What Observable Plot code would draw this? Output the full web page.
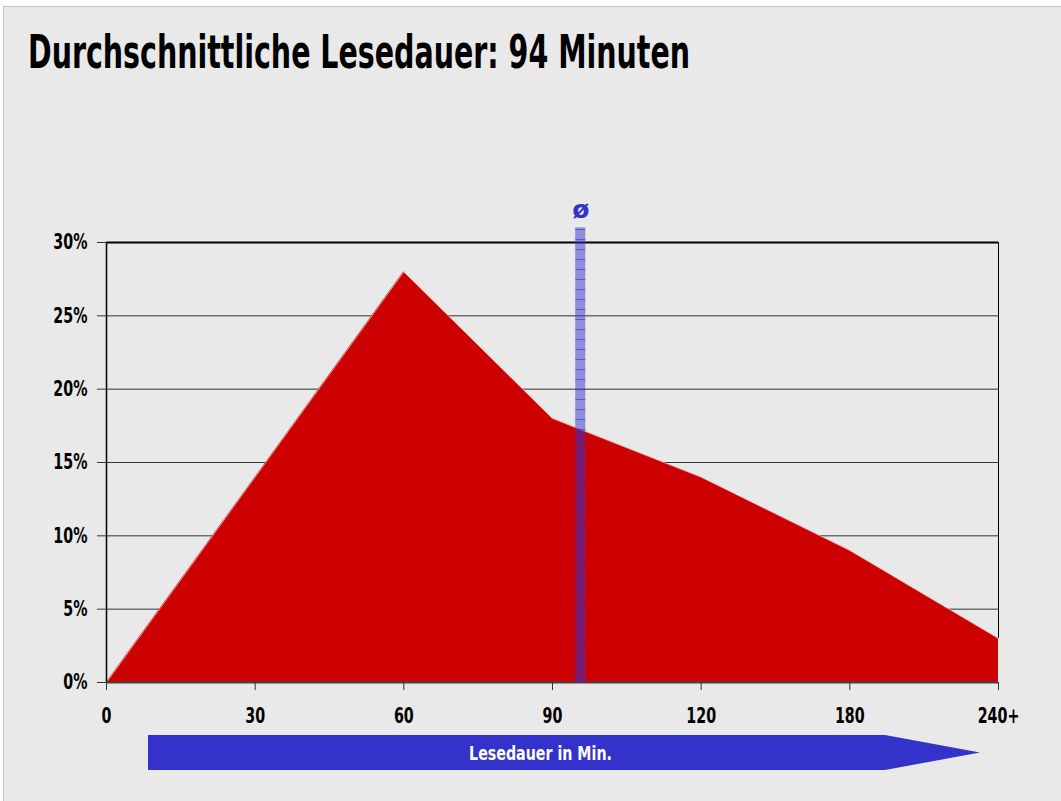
<!DOCTYPE html>
<html><head><meta charset="utf-8">
<script src="https://cdn.jsdelivr.net/npm/d3@7"></script>
<script src="https://cdn.jsdelivr.net/npm/@observablehq/plot@0.6"></script>
<style>
body{margin:0;background:#fff;width:1061px;height:801px;overflow:hidden;position:relative;}
#frame{position:absolute;left:3px;top:6px;width:1058px;height:795px;background:#e9e9e9;border-left:1px solid #c4c4c4;border-top:1px solid #c4c4c4;}
#title{position:absolute;left:28px;top:29px;font-family:"DejaVu Sans",sans-serif;font-stretch:condensed;font-weight:bold;font-size:46px;line-height:46px;white-space:nowrap;transform-origin:left top;color:#000;}
#chart{position:absolute;left:0;top:0;}
</style></head>
<body>
<div id="frame"></div>
<div id="chart"></div>
<div id="title">Durchschnittliche Lesedauer: 94 Minuten</div>
<script>
// Data
const categories = ["0", "30", "60", "90", "120", "180", "240+"];
const shares = [0, 14, 28, 18, 14, 9, 3]; // percent
const yTicks = [0, 5, 10, 15, 20, 25, 30];
const meanMinutes = 94;
const meanPosition = 3.19; // position on category axis where the mean bar is drawn
const meanLabel = "ø";
const axisLabel = "Lesedauer in Min.";

const data = categories.map((c, i) => ({i, cat: c, v: shares[i]}));
const FONT = '"DejaVu Sans",sans-serif';

const plot = Plot.plot({
  width: 1061,
  height: 801,
  marginLeft: 106,
  marginRight: 63,
  marginTop: 242,
  marginBottom: 119,
  style: {background: "transparent", fontFamily: FONT, fontWeight: "bold", fontSize: "21px", color: "#000", overflow: "visible"},
  x: {type: "linear", domain: [0, categories.length - 1], axis: null},
  y: {domain: [0, 30], axis: null},
  marks: [
    Plot.ruleY(yTicks.filter(d => d > 0 && d < 30), {stroke: "#333", strokeWidth: 1}),
    Plot.areaY(data, {x: "i", y: "v", fill: "#cc0000", curve: "linear"}),
    Plot.lineY(data, {x: "i", y: "v", stroke: "#fff", strokeWidth: 0.8, strokeOpacity: 0.7}),
    Plot.ruleY([30], {stroke: "#000", strokeWidth: 2}),
    Plot.ruleX([0], {stroke: "#000", strokeWidth: 1.5}),
    Plot.ruleX([categories.length - 1], {y1: 3, y2: 30, stroke: "#000", strokeWidth: 1}),
    Plot.ruleY([0], {stroke: "#444", strokeWidth: 2}),
    // mean bar
    Plot.rect([meanMinutes], {x1: () => meanPosition - 0.034, x2: () => meanPosition + 0.034, y1: 0, y2: 31, fill: "url(#meanPattern)"}),
    Plot.text([meanLabel], {x: () => meanPosition, y: 31, dy: -18, text: d => d, fill: "#3333cc", fontSize: 25, fontWeight: "bold"}),
    // axes
    Plot.axisY(yTicks, {label: null, tickSize: 9, tickPadding: 10, tickFormat: d => d + "%", stroke: "#333", fontSize: 21, fontWeight: "bold", className: "sq"}),
    Plot.axisX(categories.map((c, i) => i), {label: null, tickSize: 8, tickPadding: 18, tickFormat: i => categories[i], stroke: "#333", fontSize: 21, fontWeight: "bold", className: "sq"})
  ]
});

// pattern defs for mean bar
const ns = "http://www.w3.org/2000/svg";
const defs = document.createElementNS(ns, "defs");
defs.innerHTML = `<pattern id="meanPattern" patternUnits="userSpaceOnUse" width="4" height="10">
  <rect width="4" height="10" fill="#3333cc" fill-opacity="0.5"></rect>
  <rect y="9" width="4" height="1" fill="#3333cc" fill-opacity="0.6"></rect>
  <rect x="0" y="0" width="1" height="1" fill="#3333cc" fill-opacity="0.15"></rect>
  <rect x="2" y="4" width="1" height="1" fill="#3333cc" fill-opacity="0.15"></rect>
</pattern>`;
plot.insertBefore(defs, plot.firstChild);
document.getElementById("chart").appendChild(plot);

// axis label arrow
const ax0 = 148, ax1 = 885, tip = 980, ay0 = 735, ay1 = 770;
const g = document.createElementNS(ns, "g");
g.innerHTML = `<path d="M${ax0},${ay0}H${ax1}L${tip},${(ay0 + ay1) / 2}L${ax1},${ay1}H${ax0}Z" fill="#3333cc"></path>
<text class="arrowLabel" transform="translate(540.5,${(ay0 + ay1) / 2})" dy="0.36em" text-anchor="middle" fill="#fff" font-family='${FONT}' font-weight="bold" font-size="20">${axisLabel}</text>`;
plot.appendChild(g);

// condense labels (narrow typeface look)
const squeeze = 0.68;
plot.querySelectorAll(".sq text").forEach(el => {
  const tr = el.getAttribute("transform") || "";
  el.setAttribute("transform", tr + ` scale(${squeeze},1)`);
});
const al = plot.querySelector("text.arrowLabel");
const aw = al.getBBox().width;
al.setAttribute("transform", al.getAttribute("transform") + ` scale(${143 / aw},1)`);

// compress title to reference width
const t = document.getElementById("title");
const w = t.getBoundingClientRect().width;
t.style.transform = `scaleX(${662 / w})`;
</script>
</body></html>
